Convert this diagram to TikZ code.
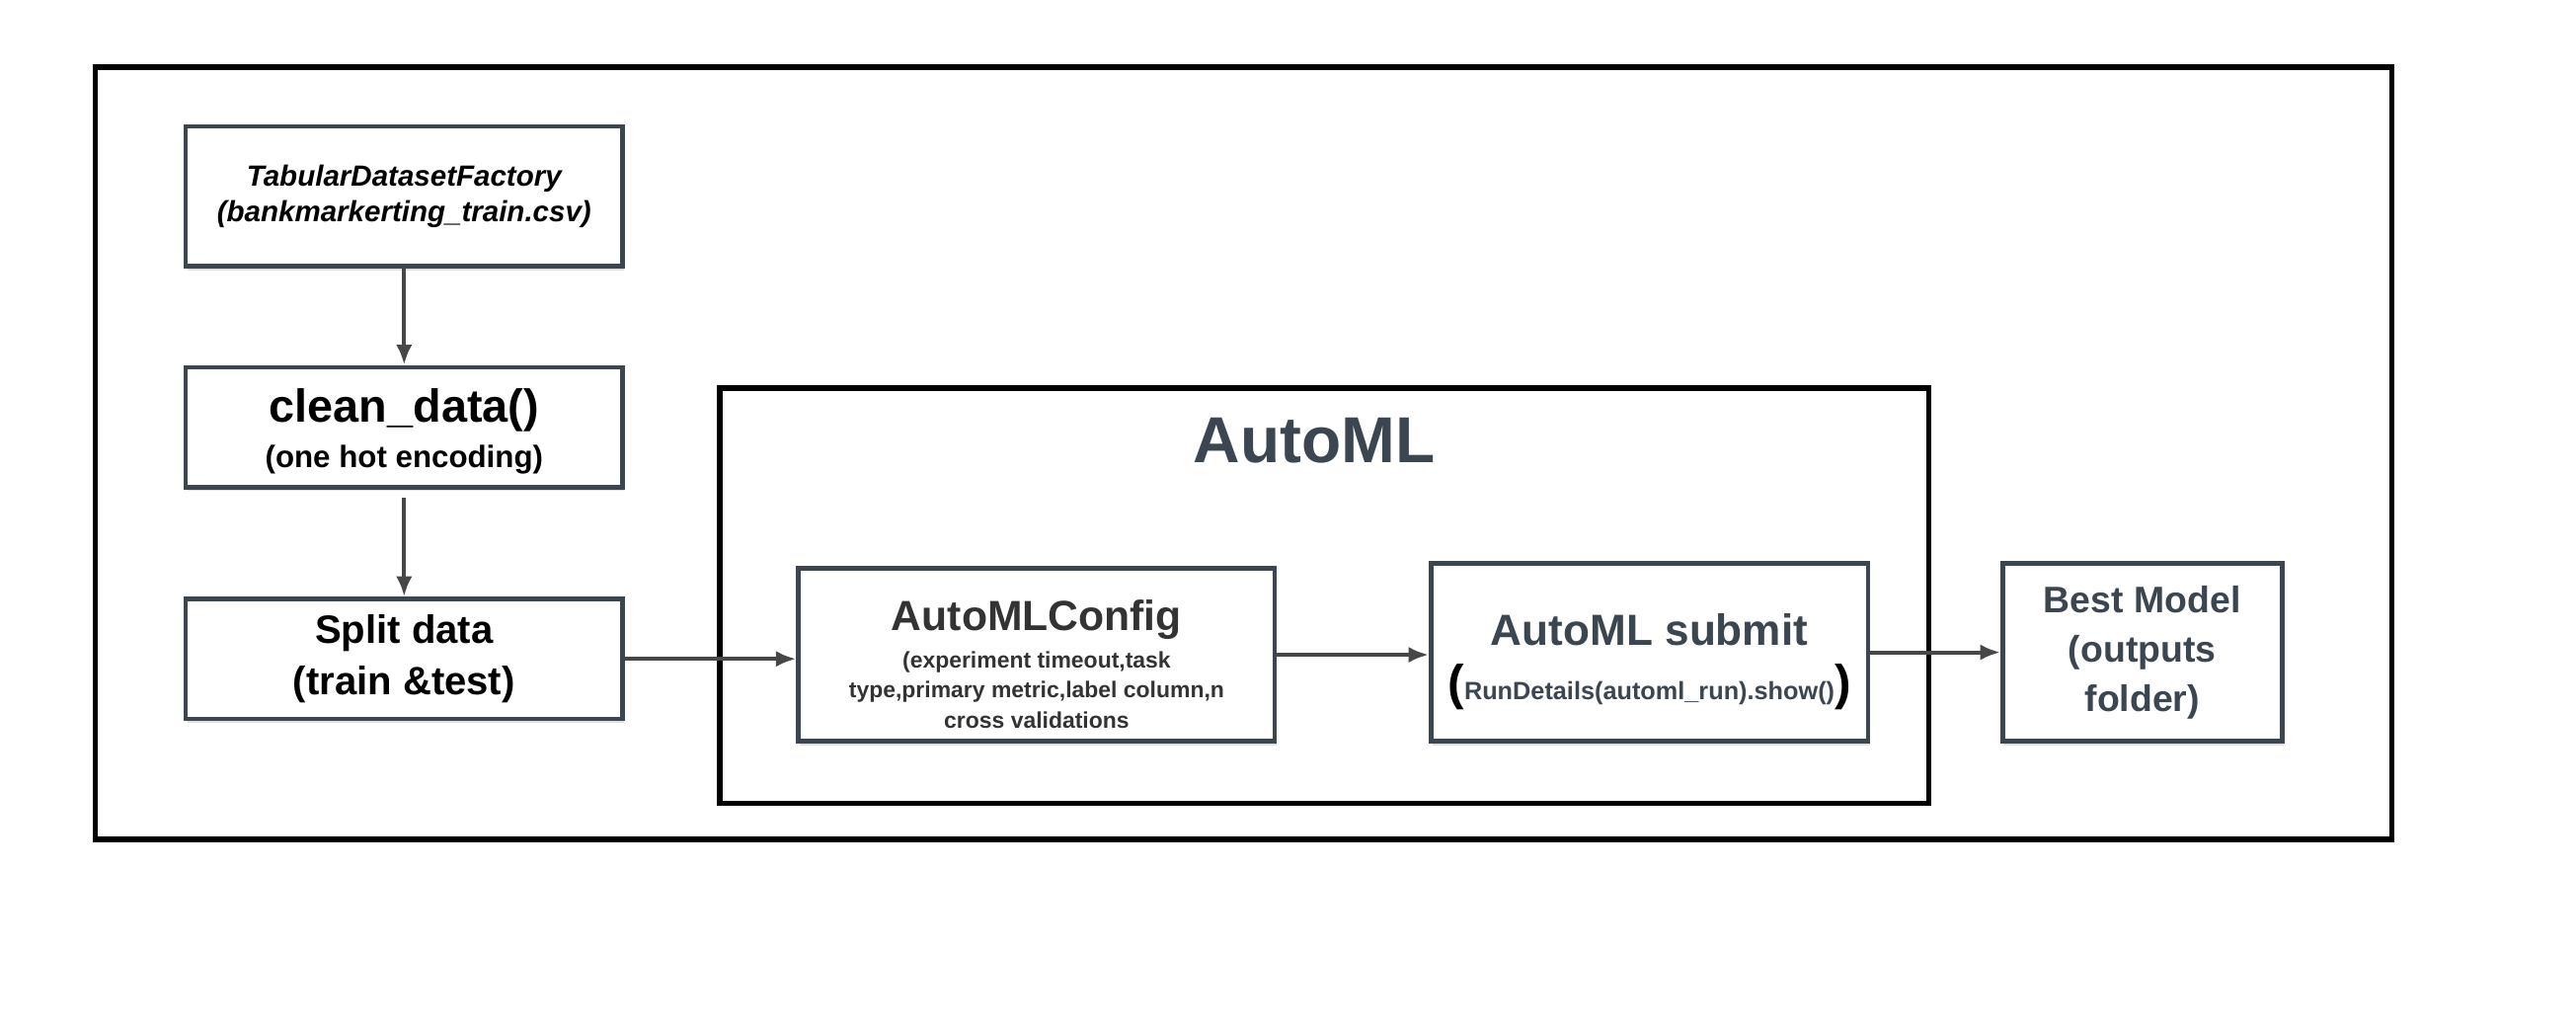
\documentclass[tikz,border=0pt]{standalone}
\usepackage{fontspec}
\setmainfont{Liberation Sans}
\usetikzlibrary{arrows.meta,shadows}

\definecolor{slate}{HTML}{3C4651}
\definecolor{ink}{HTML}{333333}
\definecolor{arrowgray}{HTML}{474747}

\newcommand{\fs}[2]{\fontsize{#1}{#2}\selectfont}

\tikzstyle{blk} = [draw=slate, line width=1.6pt, fill=white, align=center, inner sep=0pt,
  drop shadow={shadow xshift=0.6pt, shadow yshift=-1.4pt, opacity=0.12, fill=black}]
\tikzstyle{frame} = [draw=black, line width=1.9pt]
\tikzstyle{flow} = [draw=arrowgray, line width=1.4pt, -{Latex[length=7pt,width=5.6pt]}]

\begin{document}
\begin{tikzpicture}[x=0.02cm, y=-0.02cm]

\useasboundingbox (0,0) rectangle (1568,625);

% Outer frame
\draw[frame] (58,41) rectangle (1456,511);

%FACTORY
\node[blk, font=\bfseries\itshape\fs{10.1}{12.6}, minimum width=5.32cm, minimum height=1.70cm] (factory) at (246,119.5)
  {TabularDatasetFactory\\ (bankmarkerting\_train.csv)};

%CLEAN
\node[blk, font=\bfseries\fs{10.7}{13}, minimum width=5.32cm, minimum height=1.46cm] (clean) at (246,260)
  {\fs{16}{18}\rule{0pt}{14.5pt}clean\_data()\\[3pt] (one hot encoding)};

%SPLIT
\node[blk, font=\bfseries\fs{13.7}{17.6}, minimum width=5.32cm, minimum height=1.46cm] (split) at (246,401)
  {Split data\\ (train \&test)};

\draw[flow] (factory.south) -- (clean.north);
\draw[flow, shorten <=3pt] (clean.south) -- (split.north);

%AUTOML
\node[frame, minimum width=14.72cm, minimum height=5.06cm] (automl) at (806,362.5) {};
\node[text=slate, font=\bfseries\fs{22.5}{26}] (automltitle) at (800,268) {AutoML};

\node[blk, text=ink, font=\bfseries\fs{7.85}{10.4}, minimum width=5.80cm, minimum height=2.10cm] (config) at (631,398.5)
  {\fs{14.6}{17}\rule{0pt}{17pt}AutoMLConfig\\[2.5pt] (experiment timeout,task\\
   type,primary metric,label column,n\\ cross validations};

\node[blk, text=slate, font=\bfseries\fs{8.65}{10}, minimum width=5.32cm, minimum height=2.16cm] (submit) at (1004,397)
  {\fs{15.1}{18}\rule{0pt}{17.5pt}AutoML submit\\[5.5pt]
   {\color{black}\fs{17}{20}(}RunDetails(automl\_run).show(){\color{black}\fs{17}{20})}};

%BEST
\node[blk, text=slate, font=\bfseries\fs{12.8}{17.1}, minimum width=3.40cm, minimum height=2.16cm] (best) at (1304,397)
  {Best Model\\ (outputs\\ folder)};

\draw[flow] (split.east) -- (config.west |- split.east);
\draw[flow] (config.east) -- (submit.west |- config.east);
\draw[flow] (submit.east) -- (best.west);

\end{tikzpicture}
\end{document}
